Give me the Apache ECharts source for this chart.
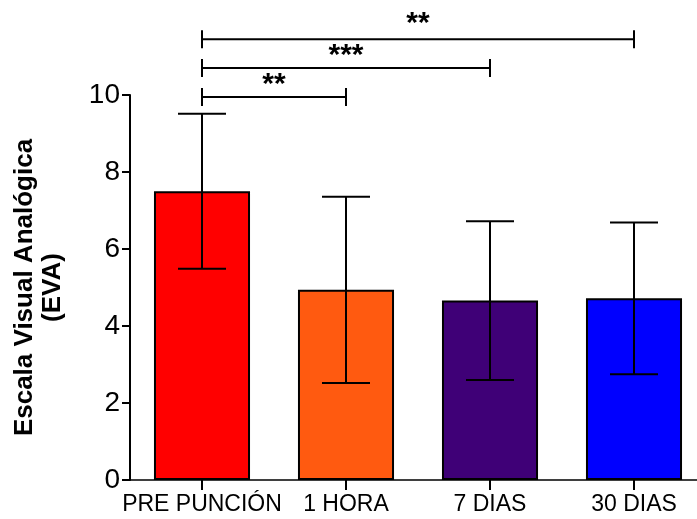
<!DOCTYPE html>
<html>
<head>
<meta charset="utf-8">
<script src="https://cdn.jsdelivr.net/npm/echarts@6/dist/echarts.min.js"></script>
<style>html,body{margin:0;padding:0;background:#fff;}#c{width:697px;height:519px;}</style>
</head>
<body>
<div id="c"></div>
<script>
const categories = ['PRE PUNCIÓN', '1 HORA', '7 DIAS', '30 DIAS'];
const means = [7.5, 4.94, 4.66, 4.72];
const sds = [2.01, 2.42, 2.06, 1.97];
const barColors = ['#FF0000', '#FF5A10', '#3F0077', '#0000FF'];
const yMin = 0, yMax = 10, yStep = 2;
const bracketFrom = [0, 0, 0];
const bracketTo = [1, 2, 3];
const bracketY = [9.95, 10.7, 11.45];
const bracketLabels = ['**', '***', '**'];

const chart = echarts.init(document.getElementById('c'), null, {renderer: 'canvas'});
const FONT = 'Liberation Sans, Arial, Helvetica, sans-serif';

const barData = means.map((v, i) => ({value: v, itemStyle: {color: barColors[i]}}));
const errData = means.map((v, i) => [i, v - sds[i], v + sds[i]]);
const brData = bracketFrom.map((a, i) => [a, bracketTo[i], bracketY[i], i]);

chart.setOption({
  animation: false,
  backgroundColor: '#fff',
  grid: {left: 130, width: 576, top: 95, bottom: 39, containLabel: false, outerBoundsMode: 'none'},
  xAxis: {
    type: 'category',
    data: categories,
    axisLine: {show: true, lineStyle: {color: '#000', width: 1.5}},
    axisTick: {show: true, alignWithLabel: true, length: 10, lineStyle: {color: '#000', width: 2}},
    axisLabel: {color: '#000', fontFamily: FONT, fontSize: 23, margin: 13, interval: 0}
  },
  yAxis: {
    type: 'value',
    min: yMin, max: yMax, interval: yStep,
    name: 'Escala Visual Analógica\n(EVA)',
    nameLocation: 'middle',
    nameRotate: 90,
    nameGap: 63,
    nameTextStyle: {color: '#000', fontFamily: FONT, fontSize: 26, fontWeight: 'bold', lineHeight: 28, align: 'center'},
    axisLine: {show: true, lineStyle: {color: '#000', width: 2}},
    axisTick: {show: true, length: 8, lineStyle: {color: '#000', width: 2}},
    axisLabel: {color: '#000', fontFamily: FONT, fontSize: 28, margin: 10},
    splitLine: {show: false}
  },
  series: [
    {
      type: 'bar',
      data: barData,
      barWidth: '66.7%',
      itemStyle: {borderColor: '#000', borderWidth: 2},
      z: 2
    },
    {
      type: 'custom',
      data: errData,
      z: 3,
      encode: {x: 0, y: [1, 2]},
      renderItem: function (params, api) {
        const i = api.value(0);
        const lo = api.coord([i, api.value(1)]);
        const hi = api.coord([i, api.value(2)]);
        const half = api.size([1, 0])[0] / 6;
        const st = {stroke: '#000', lineWidth: 2};
        return {
          type: 'group',
          children: [
            {type: 'line', shape: {x1: lo[0], y1: lo[1], x2: hi[0], y2: hi[1]}, style: st},
            {type: 'line', shape: {x1: hi[0] - half, y1: hi[1], x2: hi[0] + half, y2: hi[1]}, style: st},
            {type: 'line', shape: {x1: lo[0] - half, y1: lo[1], x2: lo[0] + half, y2: lo[1]}, style: st}
          ]
        };
      }
    },
    {
      type: 'custom',
      data: brData,
      z: 4,
      clip: false,
      encode: {x: [0, 1], y: 2},
      renderItem: function (params, api) {
        const a = api.coord([api.value(0), api.value(2)]);
        const b = api.coord([api.value(1), api.value(2)]);
        const idx = api.value(3);
        const label = bracketLabels[idx];
        const lift = idx === bracketLabels.length - 1 ? 15 : 12;
        const st = {stroke: '#000', lineWidth: 2};
        return {
          type: 'group',
          children: [
            {type: 'line', shape: {x1: a[0], y1: a[1], x2: b[0], y2: b[1]}, style: st},
            {type: 'line', shape: {x1: a[0], y1: a[1] - 9, x2: a[0], y2: a[1] + 9}, style: st},
            {type: 'line', shape: {x1: b[0], y1: b[1] - 9, x2: b[0], y2: b[1] + 9}, style: st},
            {type: 'text', style: {text: label, x: (a[0] + b[0]) / 2, y: a[1] - lift, textAlign: 'center', textVerticalAlign: 'middle', fill: '#000', font: 'bold 30px ' + FONT}}
          ]
        };
      }
    }
  ]
});
</script>
</body>
</html>
